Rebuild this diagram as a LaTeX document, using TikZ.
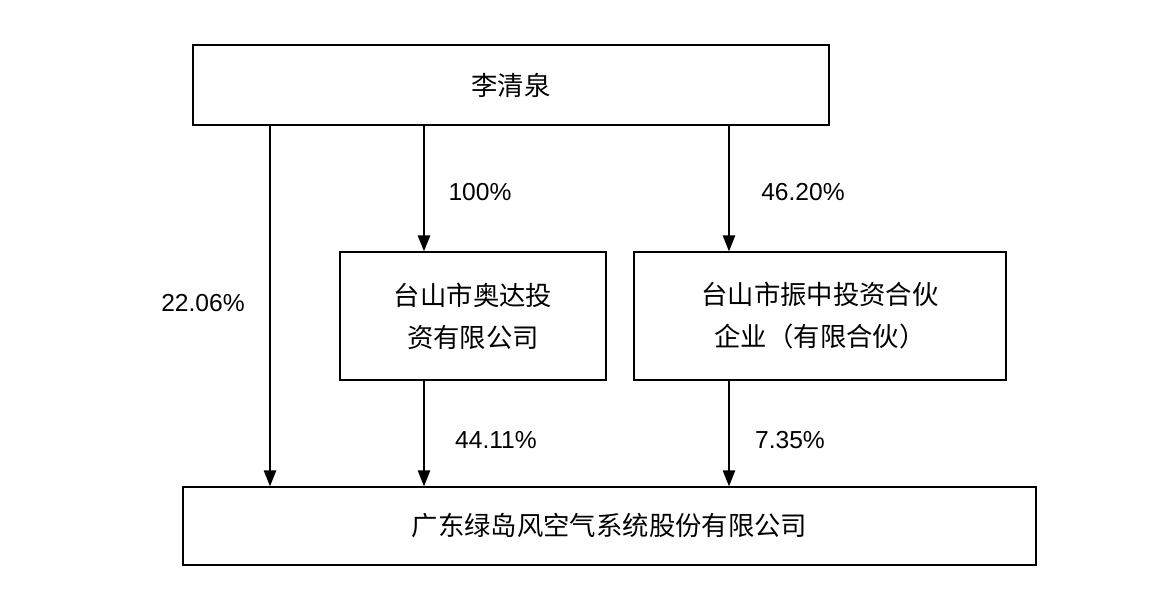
\documentclass[tikz,border=0pt]{standalone}
\usepackage{fontspec}
\setmainfont{Liberation Sans}
\newfontfamily\cjk{Noto Sans CJK SC}
\usetikzlibrary{arrows.meta}
\begin{document}
\begin{tikzpicture}[x=0.02cm,y=-0.02cm,
  box/.style={draw,line width=0.8pt,inner sep=0pt,align=center,font=\cjk\fontsize{15}{24}\selectfont},
  arr/.style={line width=0.8pt,-{Triangle[length=9pt,width=7pt]}},
  pct/.style={font=\fontsize{14}{16}\selectfont}]
\useasboundingbox (0,0) rectangle (1164,592);
\node[box,minimum width=636*0.02cm,minimum height=80*0.02cm] (top) at (511,85) {李清泉};
\node[box,minimum width=266*0.02cm,minimum height=128*0.02cm] (ml) at (473,316) {台山市奥达投\\资有限公司};
\node[box,minimum width=372*0.02cm,minimum height=128*0.02cm] (mr) at (820,316) {台山市振中投资合伙\\企业（有限合伙）};
\node[box,minimum width=853*0.02cm,minimum height=78*0.02cm] (bot) at (609.5,526) {广东绿岛风空气系统股份有限公司};
\coordinate (a) at (270,125);
\coordinate (b) at (424,125);
\coordinate (c) at (729,125);
\draw[arr] (a) -- (a |- bot.north);
\draw[arr] (b) -- (b |- ml.north);
\draw[arr] (c) -- (c |- mr.north);
\draw[arr] (b |- ml.south) -- (b |- bot.north);
\draw[arr] (c |- mr.south) -- (c |- bot.north);
\node[pct] (p1) at (203,303) {22.06\%};
\node[pct] (p2) at (480,192) {100\%};
\node[pct] (p3) at (803,192) {46.20\%};
\node[pct] (p4) at (496,440) {44.11\%};
\node[pct] (p5) at (790,440) {7.35\%};
\end{tikzpicture}
\end{document}
